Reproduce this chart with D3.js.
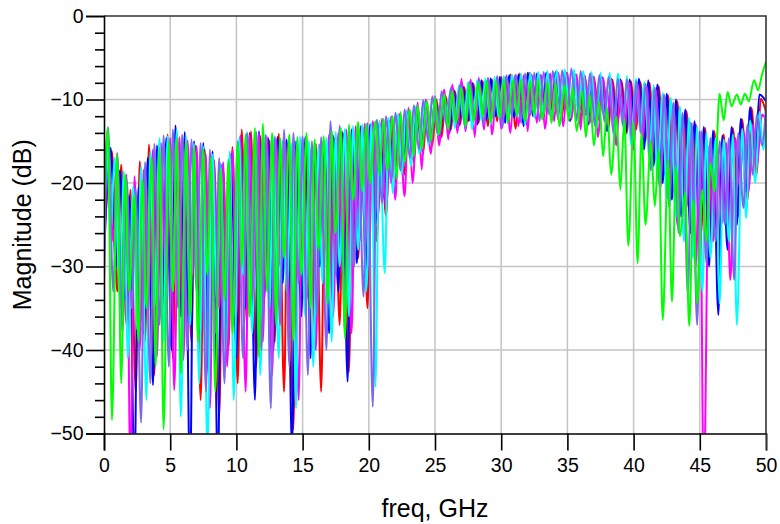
<!DOCTYPE html>
<html>
<head>
<meta charset="utf-8">
<script src="https://cdnjs.cloudflare.com/ajax/libs/d3/7.8.5/d3.min.js"></script>
<style>
  body { margin: 0; background: #fff; }
  svg { display: block; font-family: "Liberation Sans", Arial, sans-serif; }
</style>
</head>
<body>
<svg id="chart" width="780" height="524"></svg>
<script>
const xTicks = [0, 5, 10, 15, 20, 25, 30, 35, 40, 45, 50];
const yTicks = [-50, -40, -30, -20, -10, 0];
const yMinorTicks = [-48, -46, -44, -42, -38, -36, -34, -32, -28, -26, -24, -22, -18, -16, -14, -12, -8, -6, -4, -2];

// [freq GHz, magnitude dB], peaks and nulls
const red = [[0,-27],[0.6,-16.2],[1.0,-33],[1.3,-17.8],[1.7,-37],[2.0,-20.8],[2.4,-45],[2.7,-17.4],[3.1,-39],[3.4,-15.4],[3.8,-43],[4.1,-15.6],[4.5,-35],[4.8,-14.2],[5.2,-41],[5.5,-14.0],[5.9,-34],[6.2,-14.8],[6.6,-39],[6.9,-15.5],[7.3,-46],[7.6,-16.0],[8.0,-34],[8.3,-17.2],[8.7,-48],[9.0,-18.2],[9.4,-40],[9.7,-15.7],[10.1,-44],[10.4,-13.6],[10.8,-37],[11.1,-13.8],[11.5,-42],[11.8,-14.4],[12.2,-31],[12.5,-14.9],[12.9,-39],[13.2,-14.1],[13.6,-45],[13.9,-15.2],[14.3,-49.5],[14.6,-15.8],[15.0,-34],[15.3,-14.9],[15.7,-39],[16.0,-15.3],[16.4,-45],[16.7,-15.9],[17.1,-32],[17.4,-14.6],[17.8,-37],[18.1,-14.1],[18.5,-42.6],[18.8,-13.8],[19.2,-29],[19.5,-13.6],[19.9,-35],[20.2,-13.3],[20.6,-27],[20.9,-13.1],[21.3,-24],[21.6,-12.6],[22.0,-20],[22.3,-12.3],[22.7,-19],[23.0,-11.8],[23.4,-17.5],[23.7,-11.2],[24.1,-16.5],[24.4,-10.7],[24.8,-15.5],[25.1,-10.0],[25.5,-14.5],[25.8,-9.6],[26.2,-13.6],[26.5,-9.0],[26.9,-13.0],[27.2,-8.5],[27.6,-12.5],[27.9,-8.1],[28.3,-12.8],[28.6,-7.8],[29.0,-13.2],[29.3,-7.6],[29.7,-12.6],[30.0,-7.3],[30.4,-12.2],[30.7,-7.0],[31.1,-13.5],[31.4,-6.9],[31.8,-12.5],[32.1,-6.8],[32.5,-11.8],[32.8,-7.2],[33.2,-12.3],[33.5,-7.0],[33.9,-11.5],[34.2,-7.1],[34.6,-12.0],[34.9,-6.8],[35.3,-11.2],[35.6,-7.0],[36.0,-12.4],[36.3,-7.2],[36.7,-11.8],[37.0,-7.3],[37.4,-12.5],[37.7,-7.5],[38.1,-13.5],[38.4,-7.6],[38.8,-12.8],[39.1,-7.8],[39.5,-14.0],[39.8,-7.8],[40.2,-13.6],[40.5,-7.9],[40.9,-15.0],[41.2,-8.0],[41.6,-17.5],[41.9,-8.4],[42.3,-19.0],[42.6,-9.5],[43.0,-21.0],[43.3,-10.2],[43.7,-23.0],[44.0,-11.4],[44.4,-25.0],[44.7,-13.0],[45.1,-26.0],[45.4,-13.4],[45.8,-27.0],[46.1,-13.8],[46.5,-28.0],[46.8,-14.2],[47.2,-26.0],[47.5,-13.4],[47.9,-24.0],[48.2,-12.4],[48.6,-22.0],[48.9,-11.0],[49.3,-19.0],[49.6,-9.9],[50.0,-11.5]];

const blue = [[0,-29],[0.5,-15.8],[0.9,-30],[1.2,-18.5],[1.6,-34],[1.9,-21.5],[2.3,-55],[2.6,-20.5],[3.0,-38],[3.3,-17.0],[3.7,-44.2],[4.0,-15.5],[4.4,-36],[4.7,-14.6],[5.1,-40],[5.4,-13.1],[5.8,-36],[6.1,-13.9],[6.5,-56],[6.8,-15.0],[7.2,-38],[7.5,-15.2],[7.9,-43],[8.2,-16.2],[8.6,-55],[8.9,-17.8],[9.3,-37],[9.6,-16.5],[10.0,-41],[10.3,-14.4],[10.7,-35],[11.0,-14.0],[11.4,-46],[11.7,-13.8],[12.1,-34],[12.4,-14.6],[12.8,-40],[13.1,-14.5],[13.5,-32],[13.8,-14.8],[14.2,-52],[14.5,-15.0],[14.9,-36],[15.2,-14.5],[15.6,-41],[15.9,-15.6],[16.3,-30],[16.6,-15.2],[17.0,-38],[17.3,-14.3],[17.7,-33],[18.0,-13.9],[18.4,-43.8],[18.7,-13.6],[19.1,-29.6],[19.4,-13.2],[19.8,-31],[20.1,-13.0],[20.5,-25],[20.8,-12.8],[21.2,-22],[21.5,-12.5],[21.9,-19.5],[22.2,-12.1],[22.6,-18],[22.9,-11.6],[23.3,-17],[23.6,-11.0],[24.0,-16],[24.3,-10.4],[24.7,-15],[25.0,-9.8],[25.4,-14.5],[25.7,-9.3],[26.1,-14],[26.4,-8.8],[26.8,-13.2],[27.1,-8.4],[27.5,-12.6],[27.8,-8.0],[28.2,-13.0],[28.5,-7.7],[28.9,-12.4],[29.2,-7.5],[29.6,-12.0],[29.9,-7.3],[30.3,-12.8],[30.6,-7.1],[31.0,-12.2],[31.3,-7.0],[31.7,-13.2],[32.0,-6.8],[32.4,-12.0],[32.7,-6.9],[33.1,-11.6],[33.4,-6.8],[33.8,-12.5],[34.1,-6.7],[34.5,-11.4],[34.8,-6.6],[35.2,-12.6],[35.5,-6.9],[35.9,-11.5],[36.2,-7.0],[36.6,-13.0],[36.9,-7.2],[37.3,-12.0],[37.6,-7.3],[38.0,-13.8],[38.3,-7.5],[38.7,-12.5],[39.0,-7.6],[39.4,-14.2],[39.7,-7.6],[40.1,-13.0],[40.4,-7.5],[40.8,-16.0],[41.1,-7.7],[41.5,-18.0],[41.8,-8.2],[42.2,-20.0],[42.5,-9.3],[42.9,-22.0],[43.2,-10.0],[43.6,-24.0],[43.9,-11.2],[44.3,-26.0],[44.6,-12.6],[45.0,-28.0],[45.3,-13.3],[45.7,-30.0],[46.0,-13.7],[46.4,-35.8],[46.7,-14.3],[47.1,-28.0],[47.4,-13.3],[47.8,-25.0],[48.1,-12.3],[48.5,-21.0],[48.8,-10.9],[49.2,-17.0],[49.5,-9.4],[50.0,-10.2]];

const magenta = [[0,-31],[0.3,-15.5],[0.7,-27],[1.0,-16.4],[1.3,-35],[1.7,-19.0],[2.0,-55],[2.3,-19.2],[2.7,-40],[3.0,-18.4],[3.3,-36],[3.7,-16.0],[4.0,-40.8],[4.3,-15.2],[4.7,-33],[5.0,-14.6],[5.3,-44.8],[5.7,-14.5],[6.0,-41.2],[6.3,-14.9],[6.7,-31],[7.0,-15.6],[7.3,-38],[7.7,-16.6],[8.0,-47],[8.3,-17.3],[8.7,-35],[9.0,-17.5],[9.3,-42],[9.7,-16.0],[10.0,-36],[10.3,-14.3],[10.7,-45],[11.0,-14.2],[11.3,-33],[11.7,-14.0],[12.0,-39],[12.3,-14.4],[12.7,-43],[13.0,-14.8],[13.3,-30],[13.7,-15.1],[14.0,-38],[14.3,-15.4],[14.7,-46],[15.0,-14.6],[15.3,-34],[15.7,-15.5],[16.0,-40],[16.3,-15.4],[16.7,-28],[17.0,-14.2],[17.3,-36],[17.7,-14.0],[18.0,-31],[18.3,-13.6],[18.7,-38],[19.0,-13.2],[19.3,-27],[19.7,-12.9],[20.0,-30],[20.3,-12.6],[20.7,-24],[21.0,-12.3],[21.3,-23],[21.7,-12.0],[22.0,-22],[22.3,-11.7],[22.7,-21.6],[23.0,-11.0],[23.3,-20.0],[23.7,-10.4],[24.0,-18.4],[24.3,-10.0],[24.7,-16.5],[25.0,-9.6],[25.3,-15.5],[25.7,-8.8],[26.0,-14.8],[26.3,-8.2],[26.7,-14.0],[27.0,-7.5],[27.3,-13.8],[27.7,-7.6],[28.0,-14.5],[28.3,-7.4],[28.7,-13.6],[29.0,-7.5],[29.3,-14.2],[29.7,-7.4],[30.0,-13.5],[30.3,-7.3],[30.7,-14.0],[31.0,-7.2],[31.3,-13.2],[31.7,-7.1],[32.0,-13.8],[32.3,-7.0],[32.7,-12.8],[33.0,-7.0],[33.3,-13.5],[33.7,-6.9],[34.0,-12.6],[34.3,-6.8],[34.7,-13.2],[35.0,-6.8],[35.3,-12.4],[35.7,-7.0],[36.0,-13.6],[36.3,-7.1],[36.7,-12.8],[37.0,-7.3],[37.3,-14.5],[37.7,-7.4],[38.0,-13.0],[38.3,-7.6],[38.7,-15.5],[39.0,-7.8],[39.3,-13.8],[39.7,-8.0],[40.0,-16.0],[40.3,-8.2],[40.7,-14.5],[41.0,-8.4],[41.3,-18.0],[41.7,-8.9],[42.0,-21.0],[42.3,-9.6],[42.7,-19.5],[43.0,-10.6],[43.3,-25.0],[43.7,-11.8],[44.0,-23.0],[44.3,-12.8],[44.7,-30.0],[45.0,-13.8],[45.3,-57],[45.7,-15.5],[46.0,-27.0],[46.3,-16.0],[46.7,-24.8],[47.0,-15.2],[47.3,-31.6],[47.7,-14.6],[48.0,-20.5],[48.3,-13.8],[48.7,-21.0],[49.0,-13.0],[49.3,-18.0],[49.7,-11.8],[50.0,-12.5]];

const cyan = [[0,-32],[0.2,-14.8],[0.5,-26],[0.8,-17.0],[1.2,-34],[1.5,-18.6],[1.8,-41],[2.2,-20.4],[2.5,-37.5],[2.8,-18.0],[3.2,-46],[3.5,-16.2],[3.8,-35],[4.2,-14.6],[4.5,-39],[4.8,-14.4],[5.2,-33],[5.5,-13.6],[5.8,-48],[6.2,-14.4],[6.5,-37],[6.8,-15.3],[7.2,-44],[7.5,-15.6],[7.8,-52],[8.2,-16.6],[8.5,-34],[8.8,-17.6],[9.2,-40],[9.5,-16.2],[9.8,-46],[10.2,-14.6],[10.5,-31],[10.8,-13.9],[11.2,-38],[11.5,-14.0],[11.8,-43],[12.2,-14.3],[12.5,-35],[12.8,-14.6],[13.2,-41],[13.5,-14.9],[13.8,-33],[14.2,-15.2],[14.5,-47],[14.8,-14.4],[15.2,-36],[15.5,-15.0],[15.8,-42],[16.2,-15.4],[16.5,-32],[16.8,-14.6],[17.2,-39],[17.5,-13.9],[17.8,-30],[18.2,-13.5],[18.5,-36],[18.8,-13.2],[19.2,-28],[19.5,-13.0],[19.8,-33],[20.2,-12.8],[20.5,-44.4],[20.8,-12.5],[21.2,-30.8],[21.5,-12.2],[21.8,-21.2],[22.2,-11.8],[22.5,-19],[22.8,-11.3],[23.2,-18],[23.5,-10.8],[23.8,-16.5],[24.2,-10.2],[24.5,-15.5],[24.8,-9.8],[25.2,-14.2],[25.5,-9.3],[25.8,-12.7],[26.2,-8.8],[26.5,-13.4],[26.8,-8.3],[27.2,-12.8],[27.5,-7.9],[27.8,-13.6],[28.2,-7.7],[28.5,-12.5],[28.8,-7.5],[29.2,-13.0],[29.5,-7.3],[29.8,-12.2],[30.2,-7.2],[30.5,-12.8],[30.8,-7.0],[31.2,-12.0],[31.5,-6.9],[31.8,-13.0],[32.2,-6.8],[32.5,-12.2],[32.8,-6.7],[33.2,-11.8],[33.5,-6.6],[33.8,-12.6],[34.2,-6.5],[34.5,-11.5],[34.8,-6.4],[35.2,-12.2],[35.5,-6.4],[35.8,-11.6],[36.2,-6.6],[36.5,-12.8],[36.8,-6.7],[37.2,-13.5],[37.5,-6.8],[37.8,-12.4],[38.2,-6.8],[38.5,-14.5],[38.8,-6.9],[39.2,-13.2],[39.5,-7.2],[39.8,-15.5],[40.2,-7.5],[40.5,-14.0],[40.8,-7.9],[41.2,-17.0],[41.5,-8.3],[41.8,-19.5],[42.2,-9.2],[42.5,-22.0],[42.8,-9.8],[43.2,-24.0],[43.5,-10.8],[43.8,-27.0],[44.2,-12.2],[44.5,-29.0],[44.8,-13.2],[45.2,-33.0],[45.5,-14.0],[45.8,-29.0],[46.2,-14.6],[46.5,-34.4],[46.8,-14.8],[47.2,-27.0],[47.5,-14.2],[47.8,-37.0],[48.2,-13.5],[48.5,-24.2],[48.8,-12.5],[49.2,-20.0],[49.5,-11.5],[49.8,-16.0],[50.0,-11.5]];

const purple = [[0,-25],[0.3,-13.3],[0.7,-33],[1.0,-16.8],[1.4,-38],[1.7,-19.5],[2.1,-35],[2.4,-20.8],[2.8,-48.7],[3.1,-17.5],[3.5,-44],[3.8,-15.3],[4.2,-37],[4.5,-14.3],[4.9,-42],[5.2,-13.6],[5.6,-35],[5.9,-14.2],[6.3,-40],[6.6,-14.8],[7.0,-33],[7.3,-15.2],[7.7,-45],[8.0,-16.0],[8.4,-38],[8.7,-17.0],[9.1,-44],[9.4,-17.4],[9.8,-36],[10.1,-15.0],[10.5,-41],[10.8,-14.0],[11.2,-34],[11.5,-13.9],[11.9,-40],[12.2,-14.2],[12.6,-47],[12.9,-14.4],[13.3,-37],[13.6,-13.6],[14.0,-42],[14.3,-14.0],[14.7,-32],[15.0,-14.4],[15.4,-43],[15.7,-15.0],[16.1,-36],[16.4,-14.5],[16.8,-40],[17.1,-12.6],[17.5,-31],[17.8,-13.1],[18.2,-38],[18.5,-13.4],[18.9,-30],[19.2,-13.0],[19.6,-33.6],[19.9,-12.8],[20.3,-46.8],[20.6,-12.4],[21.0,-22.4],[21.3,-12.0],[21.7,-20],[22.0,-11.6],[22.4,-18.5],[22.7,-11.2],[23.1,-17],[23.4,-10.7],[23.8,-16],[24.1,-10.1],[24.5,-15],[24.8,-9.6],[25.2,-14],[25.5,-9.0],[25.9,-13.2],[26.2,-8.6],[26.6,-12.7],[26.9,-8.2],[27.3,-13.5],[27.6,-7.9],[28.0,-12.4],[28.3,-7.6],[28.7,-13.0],[29.0,-7.4],[29.4,-12.2],[29.7,-7.2],[30.1,-13.4],[30.4,-7.1],[30.8,-12.0],[31.1,-7.0],[31.5,-12.8],[31.8,-6.9],[32.2,-11.9],[32.5,-6.8],[32.9,-12.6],[33.2,-6.7],[33.6,-11.7],[33.9,-6.6],[34.3,-12.4],[34.6,-6.5],[35.0,-11.3],[35.3,-6.3],[35.7,-12.5],[36.0,-6.6],[36.4,-11.9],[36.7,-6.9],[37.1,-13.2],[37.4,-7.1],[37.8,-12.6],[38.1,-7.3],[38.5,-14.0],[38.8,-7.5],[39.2,-13.0],[39.5,-7.6],[39.9,-15.0],[40.2,-7.8],[40.6,-14.2],[40.9,-8.1],[41.3,-18.5],[41.6,-8.6],[42.0,-20.5],[42.3,-9.4],[42.7,-23.0],[43.0,-10.4],[43.4,-26.0],[43.7,-11.6],[44.1,-33.4],[44.4,-12.8],[44.8,-37.0],[45.1,-13.8],[45.5,-29.6],[45.8,-14.6],[46.2,-27.0],[46.5,-15.0],[46.9,-25.0],[47.2,-14.6],[47.6,-31.6],[47.9,-14.0],[48.3,-23.0],[48.6,-13.0],[49.0,-19.0],[49.3,-11.8],[49.7,-15.5],[50.0,-10.8]];

const green = [[0,-24],[0.3,-13.4],[0.6,-48.4],[1.0,-16.5],[1.3,-44],[1.6,-19.0],[1.9,-33],[2.3,-21.5],[2.6,-39],[2.9,-19.6],[3.2,-35],[3.6,-17.0],[3.9,-42],[4.2,-15.8],[4.5,-49.5],[4.9,-15.0],[5.2,-33],[5.5,-14.6],[5.8,-42.8],[6.2,-15.0],[6.5,-36],[6.8,-15.8],[7.1,-39],[7.5,-16.0],[7.8,-31],[8.1,-17.0],[8.4,-45],[8.8,-18.3],[9.1,-34],[9.4,-17.2],[9.7,-38],[10.1,-15.2],[10.4,-30],[10.7,-14.2],[11.0,-36],[11.4,-13.4],[11.7,-40.8],[12.0,-12.9],[12.3,-33],[12.7,-14.0],[13.0,-37],[13.3,-14.6],[13.6,-29],[14.0,-14.2],[14.3,-38.8],[14.6,-14.5],[14.9,-31],[15.3,-14.0],[15.6,-35],[15.9,-14.8],[16.2,-28],[16.6,-14.4],[16.9,-34.4],[17.2,-13.8],[17.5,-26],[17.9,-13.4],[18.2,-38.6],[18.5,-13.0],[18.8,-22],[19.2,-12.7],[19.5,-21],[19.8,-12.9],[20.1,-20],[20.5,-12.6],[20.8,-19],[21.1,-12.3],[21.4,-18.5],[21.8,-12.0],[22.1,-19.5],[22.4,-11.5],[22.7,-17.5],[23.1,-11.2],[23.4,-16.8],[23.7,-10.7],[24.0,-16],[24.4,-10.2],[24.7,-15],[25.0,-9.8],[25.3,-14.2],[25.7,-9.4],[26.0,-13.6],[26.3,-9.0],[26.6,-12.8],[27.0,-8.6],[27.3,-13.2],[27.6,-8.2],[27.9,-12.6],[28.3,-8.0],[28.6,-12.0],[28.9,-7.8],[29.2,-12.7],[29.6,-7.8],[29.9,-12.2],[30.2,-7.6],[30.5,-12.8],[30.9,-7.7],[31.2,-12.0],[31.5,-7.6],[31.8,-12.6],[32.2,-7.8],[32.5,-11.8],[32.8,-7.7],[33.1,-12.4],[33.5,-7.9],[33.8,-12.8],[34.1,-8.0],[34.4,-13.2],[34.8,-8.3],[35.1,-12.5],[35.4,-8.6],[35.7,-13.8],[36.1,-9.0],[36.4,-14.5],[36.7,-9.4],[37.0,-15.5],[37.4,-10.2],[37.7,-16.8],[38.0,-11.0],[38.3,-19.0],[38.7,-12.0],[39.0,-20.8],[39.3,-12.3],[39.6,-27.5],[40.0,-12.7],[40.3,-29.6],[40.6,-14.0],[40.9,-25.0],[41.3,-15.0],[41.6,-22.8],[41.9,-16.0],[42.2,-36.4],[42.6,-17.2],[42.9,-34.2],[43.2,-18.0],[43.5,-26.4],[43.9,-21.2],[44.2,-37.1],[44.5,-22.0],[44.8,-34.4],[45.2,-20.8],[45.5,-27.0],[45.8,-17.6],[46.1,-21.0],[46.5,-9.3],[46.8,-12.5],[47.1,-9.1],[47.4,-10.8],[47.8,-9.4],[48.1,-10.6],[48.4,-9.3],[48.7,-10.2],[49.1,-7.7],[49.4,-8.9],[49.7,-7.0],[50.0,-5.5]];

const series = [
    { color: "#ff0000", data: red },
    { color: "#0000ff", data: blue },
    { color: "#ff00ff", data: magenta },
    { color: "#00ffff", data: cyan },
    { color: "#7b68ee", data: purple },
    { color: "#00ff00", data: green }
];

const svg = d3.select("#chart");
const plot = { left: 104, right: 766, top: 16, bottom: 433.5 };

const x = d3.scaleLinear().domain([0, 50]).range([plot.left, plot.right]);
const y = d3.scaleLinear().domain([-50, 0]).range([plot.bottom, plot.top]);

svg.append("rect").attr("width", 780).attr("height", 524).attr("fill", "#fff");

// grid
const grid = svg.append("g").attr("stroke", "#c4c4c4").attr("stroke-width", 1.5);
grid.selectAll(".gx")
    .data(xTicks.slice(1, -1))
    .join("line")
    .attr("x1", d => x(d)).attr("x2", d => x(d))
    .attr("y1", plot.top).attr("y2", plot.bottom);
grid.selectAll(".gy")
    .data(yTicks.slice(1, -1))
    .join("line")
    .attr("x1", plot.left).attr("x2", plot.right)
    .attr("y1", d => y(d)).attr("y2", d => y(d));

svg.append("clipPath")
    .attr("id", "plot-clip")
    .append("rect")
    .attr("x", plot.left).attr("y", plot.top)
    .attr("width", plot.right - plot.left)
    .attr("height", plot.bottom - plot.top);

const line = d3.line()
    .x(d => x(d[0]))
    .y(d => y(d[1]))
    .curve(d3.curveMonotoneX);

svg.append("g")
    .attr("clip-path", "url(#plot-clip)")
    .selectAll("path")
    .data(series)
    .join("path")
    .attr("fill", "none")
    .attr("stroke", s => s.color)
    .attr("stroke-width", 2)
    .attr("stroke-linejoin", "round")
    .attr("d", s => line(s.data));

// frame (top and right)
svg.append("path")
    .attr("fill", "none")
    .attr("stroke", "#333")
    .attr("stroke-width", 1.6)
    .attr("d", `M${plot.left},${plot.top}H${plot.right}V${plot.bottom}`);

// axes
const xAxis = svg.append("g")
    .attr("transform", `translate(0,${plot.bottom})`)
    .call(d3.axisBottom(x).tickValues(xTicks).tickSize(17).tickPadding(8));

const yAxis = svg.append("g")
    .attr("transform", `translate(${plot.left},0)`)
    .call(d3.axisLeft(y).tickValues(yTicks).tickSize(18).tickPadding(2.5));

svg.append("g")
    .attr("transform", `translate(${plot.left},0)`)
    .call(d3.axisLeft(y).tickValues(yMinorTicks).tickSize(9).tickFormat(""))
    .call(g => g.select(".domain").remove());

[xAxis, yAxis].forEach(g => {
    g.select(".domain").attr("stroke", "#000").attr("stroke-width", 1.6);
    g.selectAll(".tick text")
        .attr("fill", "#000")
        .style("font-size", "19.5px")
        .style("font-family", "'Liberation Sans', Arial, sans-serif");
});
svg.selectAll(".tick line").attr("stroke", "#000").attr("stroke-width", 1.6);
// the 50 GHz tick continues the right frame
xAxis.selectAll(".tick line").filter(d => d === 50).attr("stroke", "#333");

// titles
svg.append("text")
    .attr("x", (plot.left + plot.right) / 2)
    .attr("y", 517)
    .attr("text-anchor", "middle")
    .style("font-size", "25px")
    .text("freq, GHz");

svg.append("text")
    .attr("transform", `translate(31,${(plot.top + plot.bottom) / 2}) rotate(-90)`)
    .attr("text-anchor", "middle")
    .style("font-size", "25px")
    .text("Magnitude (dB)");
</script>
</body>
</html>
